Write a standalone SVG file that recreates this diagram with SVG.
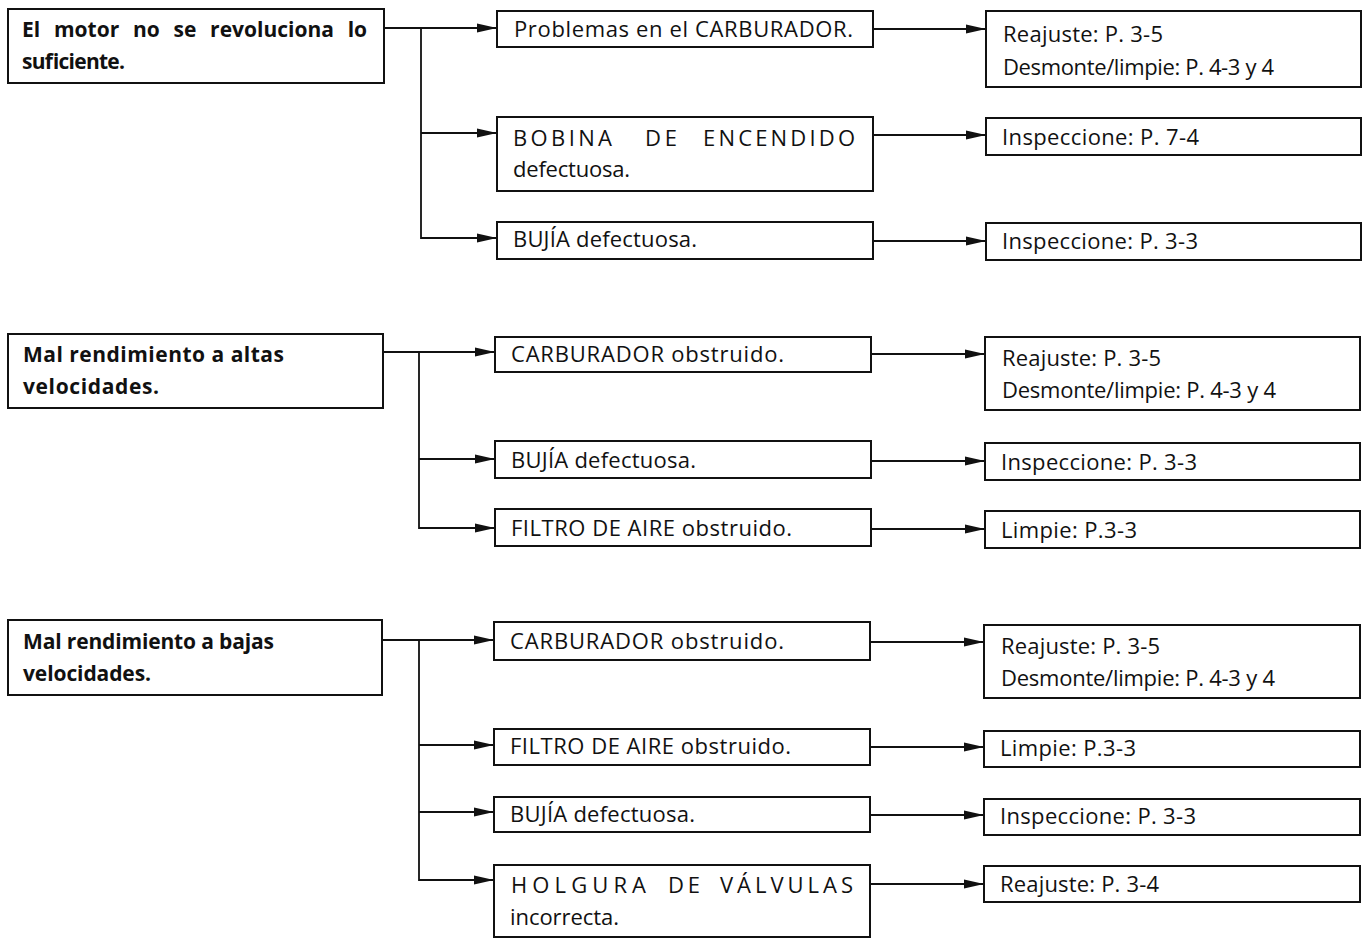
<svg xmlns="http://www.w3.org/2000/svg" width="1367" height="938" viewBox="0 0 1367 938">
<style>
rect{fill:#fff;stroke:#111;stroke-width:2}
text{font-family:"Open Sans","Noto Sans",sans-serif;font-size:22px;fill:#111}
.b{font-weight:bold;font-size:21px}
.c path{fill:none;stroke:#111;stroke-width:1.8}
</style>
<defs>
<marker id="ah" markerWidth="22" markerHeight="12" refX="20" refY="6" orient="auto" markerUnits="userSpaceOnUse">
<path d="M0,1.5 L20,6 L0,10.5 Z" fill="#111"/>
</marker>
</defs>
<rect width="1367" height="938" style="fill:#fff;stroke:none"/>
<g class="c" id="connectors">
<path d="M384,28 H497" marker-end="url(#ah)"/>
<path d="M421,28 V238 H497" marker-end="url(#ah)"/>
<path d="M421,133 H497" marker-end="url(#ah)"/>
<path d="M873,29 H986" marker-end="url(#ah)"/>
<path d="M873,135 H986" marker-end="url(#ah)"/>
<path d="M873,241 H986" marker-end="url(#ah)"/>
<path d="M383,352 H495" marker-end="url(#ah)"/>
<path d="M419,352 V528 H495" marker-end="url(#ah)"/>
<path d="M419,459 H495" marker-end="url(#ah)"/>
<path d="M871,354 H985" marker-end="url(#ah)"/>
<path d="M871,461 H985" marker-end="url(#ah)"/>
<path d="M871,529 H985" marker-end="url(#ah)"/>
<path d="M382,640 H494" marker-end="url(#ah)"/>
<path d="M419,640 V880 H494" marker-end="url(#ah)"/>
<path d="M419,745 H494" marker-end="url(#ah)"/>
<path d="M419,812 H494" marker-end="url(#ah)"/>
<path d="M870,642 H984" marker-end="url(#ah)"/>
<path d="M870,747 H984" marker-end="url(#ah)"/>
<path d="M870,815 H984" marker-end="url(#ah)"/>
<path d="M870,884 H984" marker-end="url(#ah)"/>
</g>
<g id="p1"><rect x="8" y="9" width="376" height="74"/>
<text class="b" x="22" y="37" word-spacing="8.3">El motor no se revoluciona lo</text>
<text class="b" x="22" y="69" textLength="103" lengthAdjust="spacing">suficiente.</text></g>
<g id="c11"><rect x="497" y="11" width="376" height="36"/><text x="514" y="37" textLength="339" lengthAdjust="spacing">Problemas en el CARBURADOR.</text></g>
<g id="c12"><rect x="497" y="117" width="376" height="74"/>
<text x="513" y="146" textLength="99" lengthAdjust="spacing">BOBINA</text><text x="645" y="146" textLength="32" lengthAdjust="spacing">DE</text><text x="703" y="146" textLength="152" lengthAdjust="spacing">ENCENDIDO</text>
<text x="513" y="177" textLength="117" lengthAdjust="spacing">defectuosa.</text></g>
<g id="c13"><rect x="497" y="222" width="376" height="37"/><text x="513" y="247" textLength="184" lengthAdjust="spacing">BUJÍA defectuosa.</text></g>
<g id="r11"><rect x="986" y="11" width="375" height="76"/><text x="1003" y="42" textLength="160" lengthAdjust="spacing">Reajuste: P. 3-5</text><text x="1003" y="75" textLength="271" lengthAdjust="spacing">Desmonte/limpie: P. 4-3 y 4</text></g>
<g id="r12"><rect x="986" y="118" width="375" height="37"/><text x="1002" y="145" textLength="197" lengthAdjust="spacing">Inspeccione: P. 7-4</text></g>
<g id="r13"><rect x="986" y="223" width="375" height="37"/><text x="1002" y="249" textLength="196" lengthAdjust="spacing">Inspeccione: P. 3-3</text></g>

<g id="p2"><rect x="8" y="334" width="375" height="74"/><text class="b" x="23" y="362" textLength="261" lengthAdjust="spacing">Mal rendimiento a altas</text><text class="b" x="23" y="394" textLength="136" lengthAdjust="spacing">velocidades.</text></g>
<g id="c21"><rect x="495" y="337" width="376" height="35"/><text x="511" y="362" textLength="273" lengthAdjust="spacing">CARBURADOR obstruido.</text></g>
<g id="c22"><rect x="495" y="441" width="376" height="37"/><text x="511" y="468" textLength="185" lengthAdjust="spacing">BUJÍA defectuosa.</text></g>
<g id="c23"><rect x="495" y="509" width="376" height="37"/><text x="511" y="536" textLength="281" lengthAdjust="spacing">FILTRO DE AIRE obstruido.</text></g>
<g id="r21"><rect x="985" y="337" width="375" height="73"/><text x="1002" y="366" textLength="159" lengthAdjust="spacing">Reajuste: P. 3-5</text><text x="1002" y="398" textLength="274" lengthAdjust="spacing">Desmonte/limpie: P. 4-3 y 4</text></g>
<g id="r22"><rect x="985" y="443" width="375" height="37"/><text x="1001" y="470" textLength="196" lengthAdjust="spacing">Inspeccione: P. 3-3</text></g>
<g id="r23"><rect x="985" y="511" width="375" height="37"/><text x="1001" y="538" textLength="136" lengthAdjust="spacing">Limpie: P.3-3</text></g>

<g id="p3"><rect x="8" y="620" width="374" height="75"/><text class="b" x="23" y="649" textLength="251" lengthAdjust="spacing">Mal rendimiento a bajas</text><text class="b" x="23" y="681" textLength="128" lengthAdjust="spacing">velocidades.</text></g>
<g id="c31"><rect x="494" y="622" width="376" height="38"/><text x="510" y="649" textLength="274" lengthAdjust="spacing">CARBURADOR obstruido.</text></g>
<g id="c32"><rect x="494" y="729" width="376" height="36"/><text x="510" y="754" textLength="281" lengthAdjust="spacing">FILTRO DE AIRE obstruido.</text></g>
<g id="c33"><rect x="494" y="797" width="376" height="35"/><text x="510" y="822" textLength="185" lengthAdjust="spacing">BUJÍA defectuosa.</text></g>
<g id="c34"><rect x="494" y="865" width="376" height="72"/>
<text x="511" y="893" textLength="135" lengthAdjust="spacing">HOLGURA</text><text x="668" y="893" textLength="32" lengthAdjust="spacing">DE</text><text x="720" y="893" textLength="133" lengthAdjust="spacing">VÁLVULAS</text>
<text x="510" y="925" textLength="109" lengthAdjust="spacing">incorrecta.</text></g>
<g id="r31"><rect x="984" y="625" width="376" height="73"/><text x="1001" y="654" textLength="159" lengthAdjust="spacing">Reajuste: P. 3-5</text><text x="1001" y="686" textLength="274" lengthAdjust="spacing">Desmonte/limpie: P. 4-3 y 4</text></g>
<g id="r32"><rect x="984" y="731" width="376" height="36"/><text x="1000" y="756" textLength="136" lengthAdjust="spacing">Limpie: P.3-3</text></g>
<g id="r33"><rect x="984" y="799" width="376" height="36"/><text x="1000" y="824" textLength="196" lengthAdjust="spacing">Inspeccione: P. 3-3</text></g>
<g id="r34"><rect x="984" y="866" width="376" height="36"/><text x="1000" y="892" textLength="159" lengthAdjust="spacing">Reajuste: P. 3-4</text></g>
</svg>
